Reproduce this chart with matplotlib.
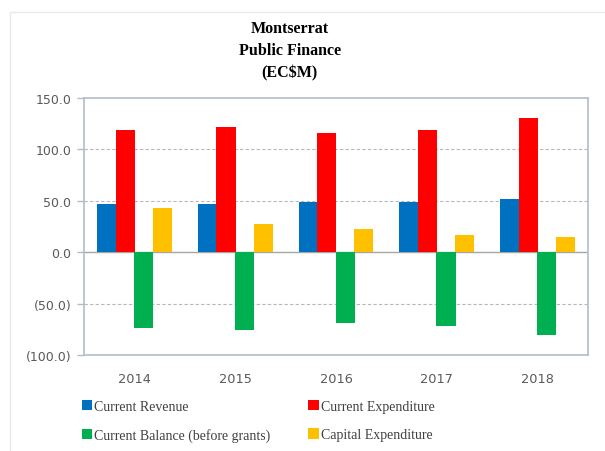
"""Montserrat public finance chart"""
import matplotlib
matplotlib.use('Agg')
import matplotlib.pyplot as plt
import matplotlib.patches as mpatches
from matplotlib.ticker import FuncFormatter
import numpy as np

years = ['2014', '2015', '2016', '2017', '2018']
current_revenue = [47.2, 47.2, 48.4, 48.4, 51.7]
current_expenditure = [118.9, 122.2, 115.7, 118.9, 131.0]
current_balance = [-74.0, -76.0, -68.5, -71.8, -80.6]
capital_expenditure = [42.9, 27.7, 22.1, 16.9, 14.6]

series = [
    ('Current Revenue', current_revenue, '#0070C0'),
    ('Current Expenditure', current_expenditure, '#FF0000'),
    ('Current Balance (before grants)', current_balance, '#00B050'),
    ('Capital Expenditure', capital_expenditure, '#FFC000'),
]
offsets = [-0.277, -0.092, 0.092, 0.277]

fig = plt.figure(figsize=(6.05, 4.52), dpi=100)
# faint outer chart border
fig.patches.append(mpatches.Rectangle((10 / 605, -0.01), 1.0, 1 - 13 / 452 + 0.01,
                                      transform=fig.transFigure, fill=False,
                                      edgecolor='#e4eaf0', linewidth=1.0))
ax = fig.add_axes([84 / 605, 1 - 356 / 452, (588 - 84) / 605, (356 - 99) / 452])

x = np.arange(len(years))
for (label, vals, color), off in zip(series, offsets):
    ax.bar(x + off, vals, width=0.19, color=color, label=label, zorder=3)

ax.set_xlim(-0.5, len(years) - 0.5)
ax.set_ylim(-100, 150)
ax.set_yticks([-100, -50, 0, 50, 100, 150])
ax.yaxis.set_major_formatter(FuncFormatter(
    lambda v, p: f'({abs(v):.1f})' if v < 0 else f'{v:.1f}'))
ax.set_xticks(x)
ax.set_xticklabels(years)

spine_color = '#b3bccb'
for s in ax.spines.values():
    s.set_color(spine_color)
    s.set_linewidth(1.2)
ax.tick_params(axis='y', colors=spine_color, length=5, width=1, labelsize=9,
               labelcolor='#595959', pad=4)
ax.tick_params(axis='x', length=0, labelsize=9.3, labelcolor='#595959', pad=12)

for v in [50, 100, -50]:
    ax.axhline(v, color='#b8b8b8', linewidth=0.8, linestyle=(0, (3, 2)), zorder=1)
ax.axhline(0, color='#a6a6a6', linewidth=1.0, zorder=2)

fig.text(0.479, 1 - 51 / 452, 'Montserrat\nPublic Finance\n(EC$M)', ha='center',
         va='center', fontsize=11.5, fontweight='bold', family='Liberation Serif',
         linespacing=1.5)

handles, labels = ax.get_legend_handles_labels()
order = [0, 2, 1, 3]
fig.legend([handles[i] for i in order], [labels[i] for i in order],
           loc='upper left', bbox_to_anchor=(82 / 605, 1 - 401 / 452), ncol=2,
           frameon=False, prop={'family': 'Liberation Serif', 'size': 10},
           handlelength=0.75, handleheight=0.75, handletextpad=0.15,
           columnspacing=2.7, labelspacing=1.1, borderpad=0, borderaxespad=0,
           labelcolor='#404040')

fig.savefig('out.png', dpi=100)
